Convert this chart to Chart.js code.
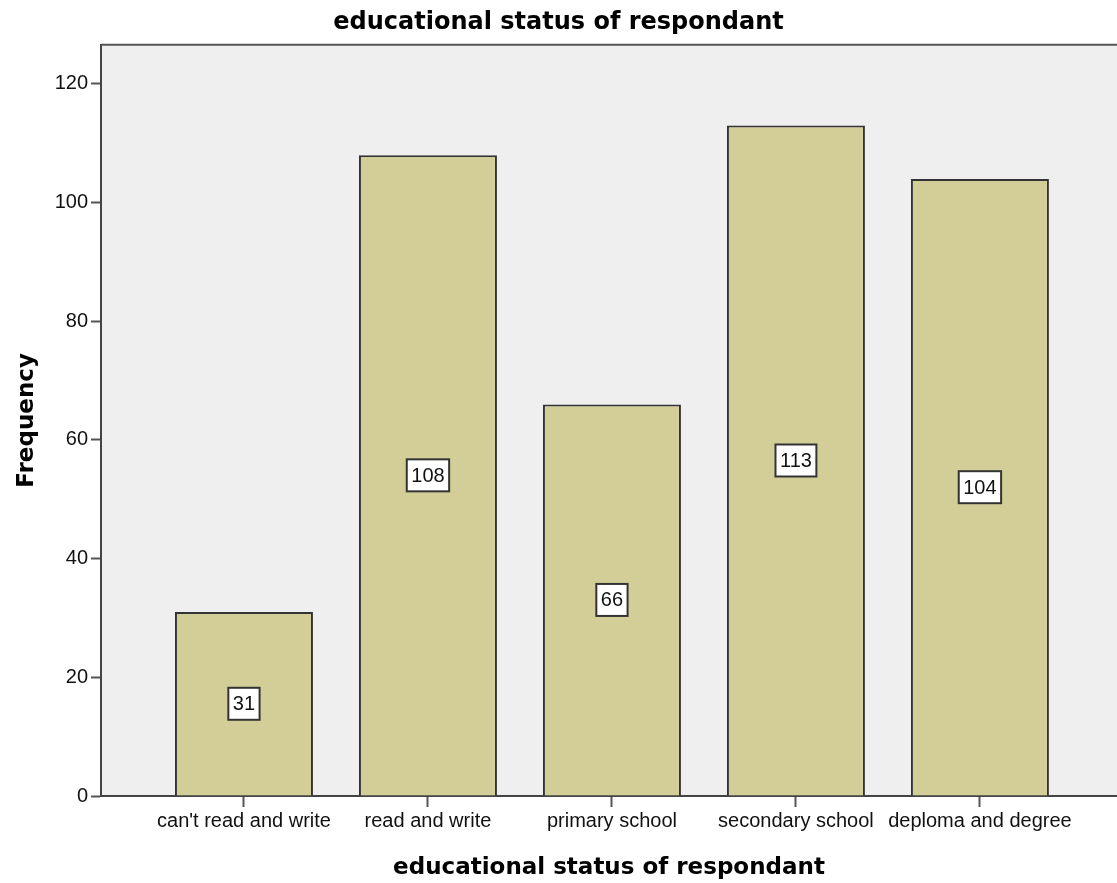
<!DOCTYPE html>
<html>
<head>
<meta charset="utf-8">
<script src="https://cdn.jsdelivr.net/npm/chart.js@4/dist/chart.umd.min.js"></script>
<style>
  html, body { margin: 0; padding: 0; background: #fff; }
  #wrap { width: 1117px; height: 883px; }
</style>
</head>
<body>
<div id="wrap"><canvas id="myChart"></canvas></div>
<script>
const categories = ["can't read and write", "read and write", "primary school", "secondary school", "deploma and degree"];
const frequency = [31, 108, 66, 113, 104];
const yTicks = [0, 20, 40, 60, 80, 100, 120];

const labelFont = "Liberation Sans, Arial, sans-serif";
const boldFont = "DejaVu Sans, Verdana, sans-serif";

// plot background + top frame line
const frame = {
  id: "frame",
  beforeDraw(chart) {
    const { ctx, chartArea: a } = chart;
    ctx.save();
    ctx.fillStyle = "#efefef";
    ctx.fillRect(a.left, a.top, a.right - a.left, a.bottom - a.top);
    ctx.restore();
  },
  afterDraw(chart) {
    const { ctx, chartArea: a } = chart;
    ctx.save();
    ctx.strokeStyle = "#555";
    ctx.lineWidth = 2;
    ctx.beginPath();
    ctx.moveTo(a.left, a.top);
    ctx.lineTo(a.right, a.top);
    ctx.stroke();
    ctx.restore();
  },
};

// boxed value labels in the middle of each bar
const boxLabels = {
  id: "boxLabels",
  afterDatasetsDraw(chart) {
    const { ctx } = chart;
    const meta = chart.getDatasetMeta(0);
    ctx.save();
    ctx.font = "20px " + labelFont;
    ctx.textAlign = "center";
    ctx.textBaseline = "middle";
    meta.data.forEach((bar, i) => {
      const txt = String(frequency[i]);
      const cy = (bar.y + bar.base) / 2;
      const w = ctx.measureText(txt).width + 9;
      const h = 32;
      ctx.fillStyle = "#fff";
      ctx.fillRect(bar.x - w / 2, cy - h / 2, w, h);
      ctx.strokeStyle = "#333";
      ctx.lineWidth = 2;
      ctx.strokeRect(bar.x - w / 2, cy - h / 2, w, h);
      ctx.fillStyle = "#111";
      ctx.fillText(txt, bar.x, cy + 1);
    });
    ctx.restore();
  },
};

new Chart(document.getElementById("myChart"), {
  type: "bar",
  data: {
    datasets: [
      {
        label: "Frequency",
        data: frequency.map((v, i) => ({ x: i, y: v })),
        backgroundColor: "#d3ce98",
        borderColor: "#333",
        borderWidth: 2,
        barPercentage: 1,
        categoryPercentage: 0.75,
      },
    ],
  },
  options: {
    responsive: true,
    maintainAspectRatio: false,
    animation: false,
    layout: { padding: 0 },
    plugins: {
      legend: { display: false },
      tooltip: { enabled: false },
      title: {
        display: true,
        text: "educational status of respondant",
        color: "#000",
        font: { family: boldFont, size: 24, weight: "bold" },
        padding: { top: 8, bottom: 8 },
      },
    },
    scales: {
      x: {
        type: "linear",
        offset: false,
        min: -0.777,
        max: 4.745,
        afterBuildTicks: (s) => {
          s.ticks = categories.map((c, i) => ({ value: i }));
        },
        afterFit: (s) => {
          s.height = 87;
        },
        ticks: {
          callback: (v) => categories[v],
          color: "#111",
          font: { family: labelFont, size: 20 },
          padding: 2,
          maxRotation: 0,
          autoSkip: false,
        },
        grid: { offset: false, drawOnChartArea: false, tickLength: 11, tickWidth: 2, color: "#555" },
        border: { color: "#444", width: 2 },
        title: {
          display: true,
          text: "educational status of respondant",
          color: "#000",
          font: { family: boldFont, size: 23, weight: "bold" },
          padding: { top: 12, bottom: 1 },
        },
      },
      y: {
        min: 0,
        max: 126.6,
        afterBuildTicks: (s) => {
          s.ticks = yTicks.map((v) => ({ value: v }));
        },
        afterFit: (s) => {
          s.width = 101;
        },
        ticks: {
          color: "#111",
          font: { family: labelFont, size: 20 },
          padding: 3,
        },
        grid: { drawOnChartArea: false, tickLength: 10, tickWidth: 2, color: "#555" },
        border: { color: "#444", width: 2 },
        title: {
          display: true,
          text: "Frequency",
          color: "#000",
          font: { family: boldFont, size: 23, weight: "bold" },
          padding: { top: 13 },
        },
      },
    },
  },
  plugins: [frame, boxLabels],
});
</script>
</body>
</html>
